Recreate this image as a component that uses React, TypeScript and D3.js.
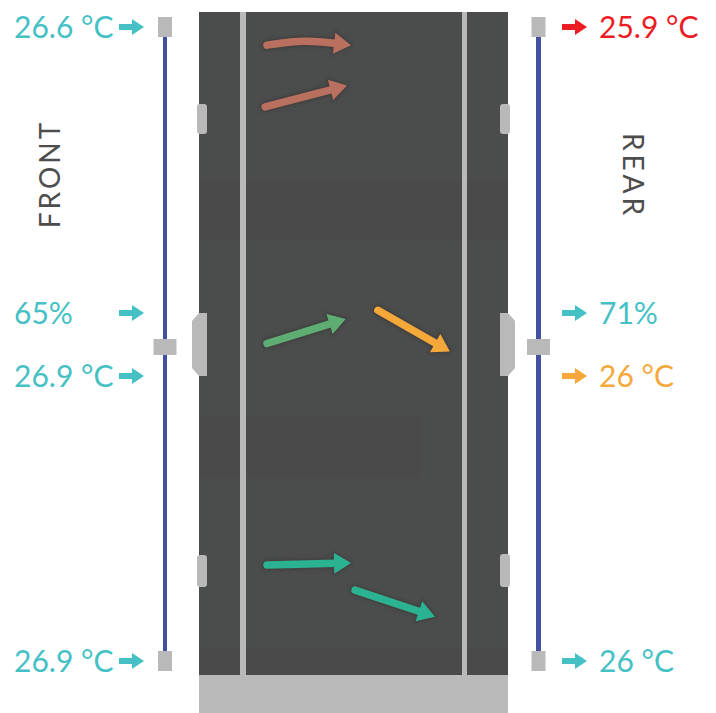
import React from "react";
import * as d3 from "d3";

// ---- data ----
const sensorLevels = ["top", "middle", "bottom"];
const frontTemps = [26.6, 26.9, 26.9];
const rearTemps = [25.9, 26, 26];
const rearTempStatus = ["hot", "warm", "normal"];
const frontHumidity = 65;
const rearHumidity = 71;
const sideLabels = ["FRONT", "REAR"];

// airflow arrows inside the rack, in rack units (0-100 across, 0-100 down)
const airflowNames = ["exhaust-top-1", "exhaust-top-2", "mid-in", "mid-out", "low-in", "low-out"];
const airflowStatus = ["hot", "hot", "cool", "warm", "ok", "ok"];
const airflowX = [
  [22.0, 34.3, 49.2],
  [21.4, 47.9],
  [22.0, 47.5],
  [57.9, 81.2],
  [22.0, 49.2],
  [50.5, 76.4],
];
const airflowY = [
  [5.0, 4.2, 5.0],
  [14.3, 11.1],
  [50.0, 46.3],
  [45.0, 51.2],
  [83.4, 83.1],
  [87.2, 91.2],
];

const W = 716;
const H = 713;
const CYAN = "#45c1c6";
const statusColor: Record<string, string> = {
  hot: "#ec1c24",
  warm: "#f7a83b",
  normal: CYAN,
};
const flowColor: Record<string, string> = {
  hot: "#b9705f",
  cool: "#5ead73",
  warm: "#f5a83a",
  ok: "#2bb391",
};

const rack = { x0: 199, x1: 508, y0: 12, y1: 675, base: 713 };
const GRAY = "#b9b9b9";
const STRIP = "#4350a0";
const FONT = "Lato, 'Open Sans', sans-serif";

function labelArrow(x: number, y: number, color: string) {
  const d = `M${x},${y - 3} L${x + 13},${y - 3} L${x + 13},${y - 8} L${x + 25},${y} L${x + 13},${y + 8} L${x + 13},${y + 3} L${x},${y + 3} Z`;
  return <path d={d} fill={color} />;
}

export default function App() {
  const yScale = d3.scalePoint<string>().domain(sensorLevels).range([27, 661]);
  const rx = d3.scaleLinear().domain([0, 100]).range([rack.x0, rack.x1]);
  const ry = d3.scaleLinear().domain([0, 100]).range([rack.y0, rack.y1]);
  const leftStripX = 165;
  const rightStripX = 538.5;
  const midY = yScale("middle")!;
  const humOffset = -31;
  const tempOffset = 32;
  const FS = 30;

  const line = d3
    .line<[number, number]>()
    .x((d) => d[0])
    .y((d) => d[1])
    .curve(d3.curveBasis);

  const tempLabel = (v: number) => `${v} °C`;

  const handle = (side: "left" | "right", yTop: number, yBot: number, big: boolean) => {
    if (side === "left") {
      if (big) {
        return (
          <path
            d={`M207,${yTop} L199,${yTop} L192,${yTop + 8} L192,${yBot - 8} L199,${yBot} L207,${yBot} Z`}
            fill={GRAY}
          />
        );
      }
      return <rect x={197} y={yTop} width={10} height={yBot - yTop} rx={3} fill={GRAY} />;
    } else {
      if (big) {
        return (
          <path
            d={`M500,${yTop} L508,${yTop} L515,${yTop + 8} L515,${yBot - 8} L508,${yBot} L500,${yBot} Z`}
            fill={GRAY}
          />
        );
      }
      return <rect x={500} y={yTop} width={10} height={yBot - yTop} rx={3} fill={GRAY} />;
    }
  };

  return (
    <div style={{ position: "absolute", left: 0, top: 0 }}>
      <svg width={W} height={H} style={{ display: "block", background: "#fff" }}>
        <defs>
          <filter id="glow" x="-20%" y="-50%" width="140%" height="200%">
            <feGaussianBlur stdDeviation="1.5" />
          </filter>
        </defs>
        {/* rack body */}
        <rect x={rack.x0} y={rack.y0} width={rack.x1 - rack.x0} height={rack.y1 - rack.y0} fill="#4a4d4c" />
        <rect x={rack.x0} y={180} width={rack.x1 - rack.x0} height={61} fill="#4a4a4a" />
        <rect x={rack.x0} y={417} width={222} height={61} fill="#4a4a4a" />
        <rect x={rack.x0} y={648} width={rack.x1 - rack.x0} height={27} fill="#4a4a4a" />
        {/* inner rails */}
        <rect x={240} y={rack.y0} width={6} height={rack.y1 - rack.y0} fill={GRAY} />
        <rect x={462} y={rack.y0} width={5} height={rack.y1 - rack.y0} fill={GRAY} />
        {/* base */}
        <rect x={rack.x0} y={rack.y1} width={rack.x1 - rack.x0} height={rack.base - rack.y1} fill={GRAY} />
        {/* handles */}
        {handle("left", 104, 134, false)}
        {handle("left", 313, 376, true)}
        {handle("left", 555, 587, false)}
        {handle("right", 104, 134, false)}
        {handle("right", 313, 376, true)}
        {handle("right", 554, 587, false)}

        {/* airflow arrows */}
        {airflowNames.map((name, i) => {
          const pts: [number, number][] = airflowX[i].map((x, j) => [rx(x), ry(airflowY[i][j])]);
          const n = pts.length;
          const tip = pts[n - 1];
          const prev = pts[n - 2];
          const ang = Math.atan2(tip[1] - prev[1], tip[0] - prev[0]);
          const L = 17;
          const hw = 10.5;
          const base: [number, number] = [tip[0] - L * Math.cos(ang), tip[1] - L * Math.sin(ang)];
          const shaftPts = pts.slice(0, n - 1).concat([[base[0] + 3 * Math.cos(ang), base[1] + 3 * Math.sin(ang)]]);
          const px = -Math.sin(ang);
          const py = Math.cos(ang);
          const head = `M${tip[0]},${tip[1]} L${base[0] + hw * px},${base[1] + hw * py} L${base[0] - hw * px},${base[1] - hw * py} Z`;
          const color = flowColor[airflowStatus[i]];
          return (
            <g key={name}>
              <g filter="url(#glow)" opacity={0.5}>
                <path d={line(shaftPts) || ""} stroke="#3a3233" strokeWidth={11} fill="none" strokeLinecap="round" />
                <path d={head} fill="#3a3233" stroke="#3a3233" strokeWidth={3} />
              </g>
              <path d={line(shaftPts) || ""} stroke={color} strokeWidth={7.5} fill="none" strokeLinecap="round" />
              <path d={head} fill={color} />
            </g>
          );
        })}

        {/* sensor strips */}
        <line x1={leftStripX} x2={leftStripX} y1={yScale("top")!} y2={yScale("bottom")!} stroke={STRIP} strokeWidth={4} />
        <line x1={rightStripX} x2={rightStripX} y1={yScale("top")!} y2={yScale("bottom")!} stroke={STRIP} strokeWidth={5} />
        {sensorLevels.map((lvl) => {
          const y = yScale(lvl)! + (lvl === "middle" ? 3 : 0);
          const mid = lvl === "middle";
          const w = mid ? 23 : 14;
          const h = mid ? 16 : 20;
          return (
            <g key={lvl}>
              <rect x={leftStripX - w / 2} y={y - h / 2} width={w} height={h} fill={GRAY} />
              <rect x={rightStripX - w / 2} y={y - h / 2} width={w} height={h} fill={GRAY} />
            </g>
          );
        })}

        {/* front labels */}
        {sensorLevels.map((lvl, i) => {
          const y = yScale(lvl)! + (lvl === "middle" ? tempOffset : 0);
          return (
            <g key={"f" + lvl}>
              <text x={14} y={y} dy="0.36em" fontSize={FS} fontFamily={FONT} fill={CYAN}>
                {tempLabel(frontTemps[i])}
              </text>
              {labelArrow(119, y, CYAN)}
            </g>
          );
        })}
        <text x={14} y={midY + humOffset} dy="0.36em" fontSize={FS} fontFamily={FONT} fill={CYAN}>
          {`${frontHumidity}%`}
        </text>
        {labelArrow(119, midY + humOffset, CYAN)}

        {/* rear labels */}
        {sensorLevels.map((lvl, i) => {
          const y = yScale(lvl)! + (lvl === "middle" ? tempOffset : 0);
          const c = statusColor[rearTempStatus[i]];
          return (
            <g key={"r" + lvl}>
              {labelArrow(562, y, c)}
              <text x={599} y={y} dy="0.36em" fontSize={FS} fontFamily={FONT} fill={c}>
                {tempLabel(rearTemps[i])}
              </text>
            </g>
          );
        })}
        {labelArrow(562, midY + humOffset, CYAN)}
        <text x={599} y={midY + humOffset} dy="0.36em" fontSize={FS} fontFamily={FONT} fill={CYAN}>
          {`${rearHumidity}%`}
        </text>

        {/* side titles */}
        <text
          transform={`translate(50,174) rotate(-90)`}
          textAnchor="middle"
          dy="0.36em"
          fontSize={28}
          letterSpacing={3}
          fontFamily={FONT}
          fill="#4d4d4d"
        >
          {sideLabels[0]}
        </text>
        <text
          transform={`translate(633,176) rotate(90)`}
          textAnchor="middle"
          dy="0.36em"
          fontSize={28}
          letterSpacing={4}
          fontFamily={FONT}
          fill="#4d4d4d"
        >
          {sideLabels[1]}
        </text>
      </svg>
    </div>
  );
}
